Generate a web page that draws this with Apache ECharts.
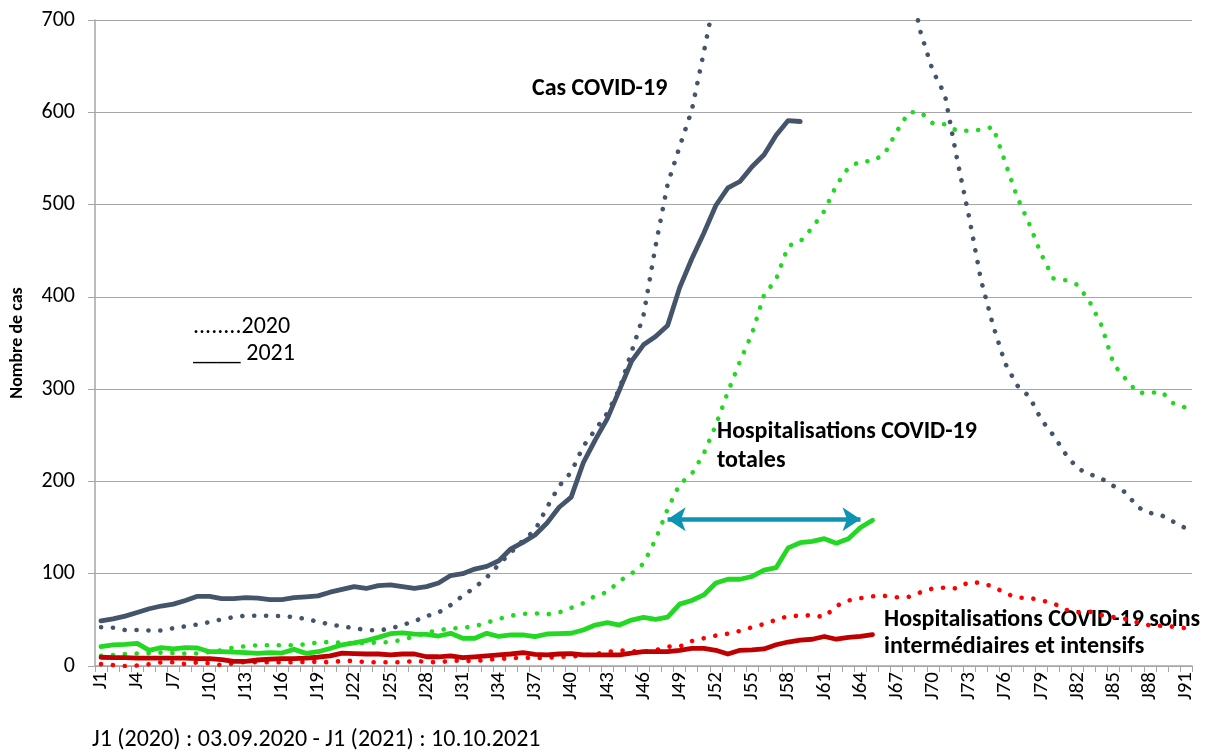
<!DOCTYPE html>
<html>
<head>
<meta charset="utf-8">
<script src="https://cdn.jsdelivr.net/npm/echarts@6/dist/echarts.min.js"></script>
<style>
  html, body { margin: 0; padding: 0; background: #ffffff; }
  #chart { width: 1208px; height: 752px; }
</style>
</head>
<body>
<div id="chart"></div>
<script>
// ---------- data ----------
const days = [];
for (let i = 1; i <= 91; i++) days.push('J' + i);

const cases2020 = [42, 41.5, 39, 39, 38.5, 38.5, 41, 43, 45, 47.5, 50.5, 53, 54.5, 54.5, 54.5, 54, 53, 51, 48, 45,
  43, 41, 39, 38.5, 40.5, 44.5, 48.5, 54, 58, 66, 76, 85, 96, 110, 123, 136, 147, 172, 195, 210,
  238, 256, 274, 300, 340, 380, 455, 522, 563, 602, 665, 730, 790, 840, 880, 910, 935, 950, 960, 962,
  955, 940, 915, 885, 850, 815, 780, 745, 686, 645, 619, 550, 487, 418, 369, 328, 304, 292, 267, 250,
  230, 214, 208, 203, 195, 188, 172, 166, 163, 156, 149];

const cases2021 = [49, 51, 54, 58, 62, 65, 67, 71, 75.5, 75.5, 73, 73, 74, 73.5, 72, 72, 74, 75, 76, 80,
  83, 86, 84, 87, 88, 86, 84, 86, 90, 98, 100, 105, 108, 114, 127, 134, 142, 155, 172, 183,
  220, 245, 268, 299, 330, 348, 357, 369, 410, 441, 469, 499, 518, 525, 541, 554, 575, 591, 590];

const hosp2020 = [11, 12, 13, 13.5, 14, 14.5, 14, 13.5, 13.5, 15, 17, 20, 21.5, 22.5, 22.5, 22.5, 22.5, 23.5, 25.5, 26,
  25, 25, 25, 25.5, 26, 28.5, 32, 36, 39, 40.5, 41.5, 43, 47, 51, 54.5, 56.5, 57, 56, 58, 63,
  68, 76, 80, 92, 100, 111, 137, 170, 197, 208, 230, 261, 297, 330, 360, 402, 419, 455, 460, 475,
  493, 521, 540, 547, 547, 555, 579, 600, 600, 588, 587, 580, 580, 581, 584, 546, 508, 479, 446, 420,
  418, 413, 395, 369, 327, 311, 296, 296, 297, 284, 280];

const hosp2021 = [21, 23, 23.5, 24.5, 17, 20, 18.5, 20, 19.5, 15.5, 15.5, 15, 14.5, 13.7, 14.5, 14, 18, 13.7, 15.5, 19,
  23, 25, 27.5, 31, 35, 36, 34.5, 34.3, 32.5, 35.4, 30, 30, 35.4, 32, 33.6, 33.6, 31.8, 34.7, 35, 35.5,
  39, 44.4, 47, 44.4, 49.8, 52.7, 50.6, 53, 67, 71, 77, 90, 94, 94, 97, 104, 106.5, 128, 133.6, 135,
  138, 133, 138, 150, 158];

const icu2020 = [2, 1, 0, 0.5, 2, 4, 4, 2, 4, 3, 1, 3, 4.5, 4, 4, 4, 4, 4.5, 4.5, 4,
  5.5, 5.5, 4, 4, 4, 4, 5.5, 4.5, 4, 5.5, 6, 5, 7, 7.6, 8.5, 9, 8.5, 9, 10, 10,
  11.5, 13, 15, 17, 16, 15.5, 17, 21, 21, 27, 30, 33, 35, 38, 42, 45.5, 50, 54, 54.5, 55,
  53, 65, 71, 73.5, 75.5, 76, 74.5, 75, 80, 84, 85, 84, 91, 90, 86, 79, 74, 74, 71, 68,
  61, 58, 59, 55, 53, 51, 47, 44, 43.5, 42.5, 41];

const icu2021 = [9.5, 9, 9, 8.5, 8.5, 8.5, 8.5, 8.5, 8, 8, 7, 5, 5, 6.5, 7.5, 8, 8, 8.5, 9.5, 11,
  14, 13.5, 13, 13, 12, 13, 13, 10, 10, 11, 9, 10, 11, 12, 13, 14.5, 12.5, 12, 13, 13.5,
  12, 12, 12, 12, 14, 15.5, 15.5, 15.5, 17, 19, 19, 17, 13, 17, 17.5, 18.5, 23, 26, 28, 29,
  32, 29, 31, 32, 34];

const yTicks = [0, 100, 200, 300, 400, 500, 600, 700];

// arrow annotation (delay between 2020 and 2021 hospitalisations)
const arrowFrom = 'J48';
const arrowTo = 'J64';
const arrowLevel = 159;

// ---------- styles ----------
const FONT = 'Carlito, Lato, "Liberation Sans", sans-serif';
const C_CASES = '#44546A';
const C_HOSP = '#22D822';
const C_ICU20 = '#FF0000';
const C_ICU21 = '#C00000';
const C_ARROW = '#0E93B2';
const GRID = '#A6A6A6';

function dotted(name, data, color) {
  return {
    name, type: 'line', data, symbol: 'none', smooth: false, silent: true,
    lineStyle: { color, width: 4.6, type: [0.1, 11.8], cap: 'round', join: 'round' },
    z: 2
  };
}
function solid(name, data, color) {
  return {
    name, type: 'line', data, symbol: 'none', smooth: false, silent: true,
    lineStyle: { color, width: 4.8, type: 'solid', cap: 'round', join: 'round' },
    z: 3
  };
}

const chart = echarts.init(document.getElementById('chart'), null, { renderer: 'canvas' });

const series = [
  dotted('Cas 2020', cases2020, C_CASES),
  dotted('Hosp 2020', hosp2020, C_HOSP),
  dotted('SI 2020', icu2020, C_ICU20),
  solid('Cas 2021', cases2021, C_CASES),
  solid('SI 2021', icu2021, C_ICU21),
  solid('Hosp 2021', hosp2021, C_HOSP)
];
series[5].markLine = {
  silent: true,
  symbol: ['arrow', 'arrow'],
  symbolSize: [18, 18],
  label: { show: false },
  lineStyle: { color: C_ARROW, width: 4.5, type: 'solid' },
  data: [[{ coord: [arrowFrom, arrowLevel] }, { coord: [arrowTo, arrowLevel] }]]
};

chart.setOption({
  animation: false,
  backgroundColor: '#ffffff',
  grid: { left: 92, right: 16, top: 20, bottom: 86, containLabel: false },
  xAxis: {
    type: 'category',
    data: days,
    boundaryGap: true,
    axisLine: { show: true, lineStyle: { color: GRID, width: 1.5 } },
    axisTick: { show: true, interval: 0, length: 6, lineStyle: { color: GRID, width: 1 } },
    axisLabel: {
      interval: 2, rotate: 90, margin: 6,
      fontFamily: FONT, fontSize: 21, color: '#000000'
    },
    splitLine: { show: false }
  },
  yAxis: {
    type: 'value',
    min: yTicks[0], max: yTicks[yTicks.length - 1], interval: 100,
    name: 'Nombre de cas',
    nameLocation: 'middle',
    nameGap: 69,
    nameRotate: 90,
    nameTextStyle: { fontFamily: FONT, fontSize: 18, fontWeight: 'bold', color: '#000000' },
    axisLine: { show: true, lineStyle: { color: GRID, width: 1.5 } },
    axisTick: { show: true, length: 7, lineStyle: { color: GRID, width: 1 } },
    axisLabel: { margin: 20, fontFamily: FONT, fontSize: 22, color: '#000000' },
    splitLine: { show: true, lineStyle: { color: GRID, width: 1.2 } }
  },
  graphic: [
    { type: 'text', left: 532, top: 77, style: { text: 'Cas COVID-19', fontFamily: FONT, fontSize: 24, fontWeight: 'bold', fill: '#000' } },
    { type: 'text', left: 717, top: 417, style: { text: 'Hospitalisations COVID-19\ntotales', fontFamily: FONT, fontSize: 24, fontWeight: 'bold', lineHeight: 29, fill: '#000' } },
    { type: 'text', left: 884, top: 606, style: { text: 'Hospitalisations COVID-19 soins\nintermédiaires et intensifs', fontFamily: FONT, fontSize: 24, fontWeight: 'bold', lineHeight: 27, fill: '#000' } },
    { type: 'text', left: 193, top: 315, style: { text: '........2020', fontFamily: FONT, fontSize: 24, fill: '#000' } },
    { type: 'text', left: 193, top: 342, style: { text: '____ 2021', fontFamily: FONT, fontSize: 24, fill: '#000' } },
    { type: 'text', left: 92, top: 728, style: { text: 'J1 (2020) : 03.09.2020 - J1 (2021) : 10.10.2021', fontFamily: FONT, fontSize: 24, fill: '#000' } }
  ],
  series
});
</script>
</body>
</html>
